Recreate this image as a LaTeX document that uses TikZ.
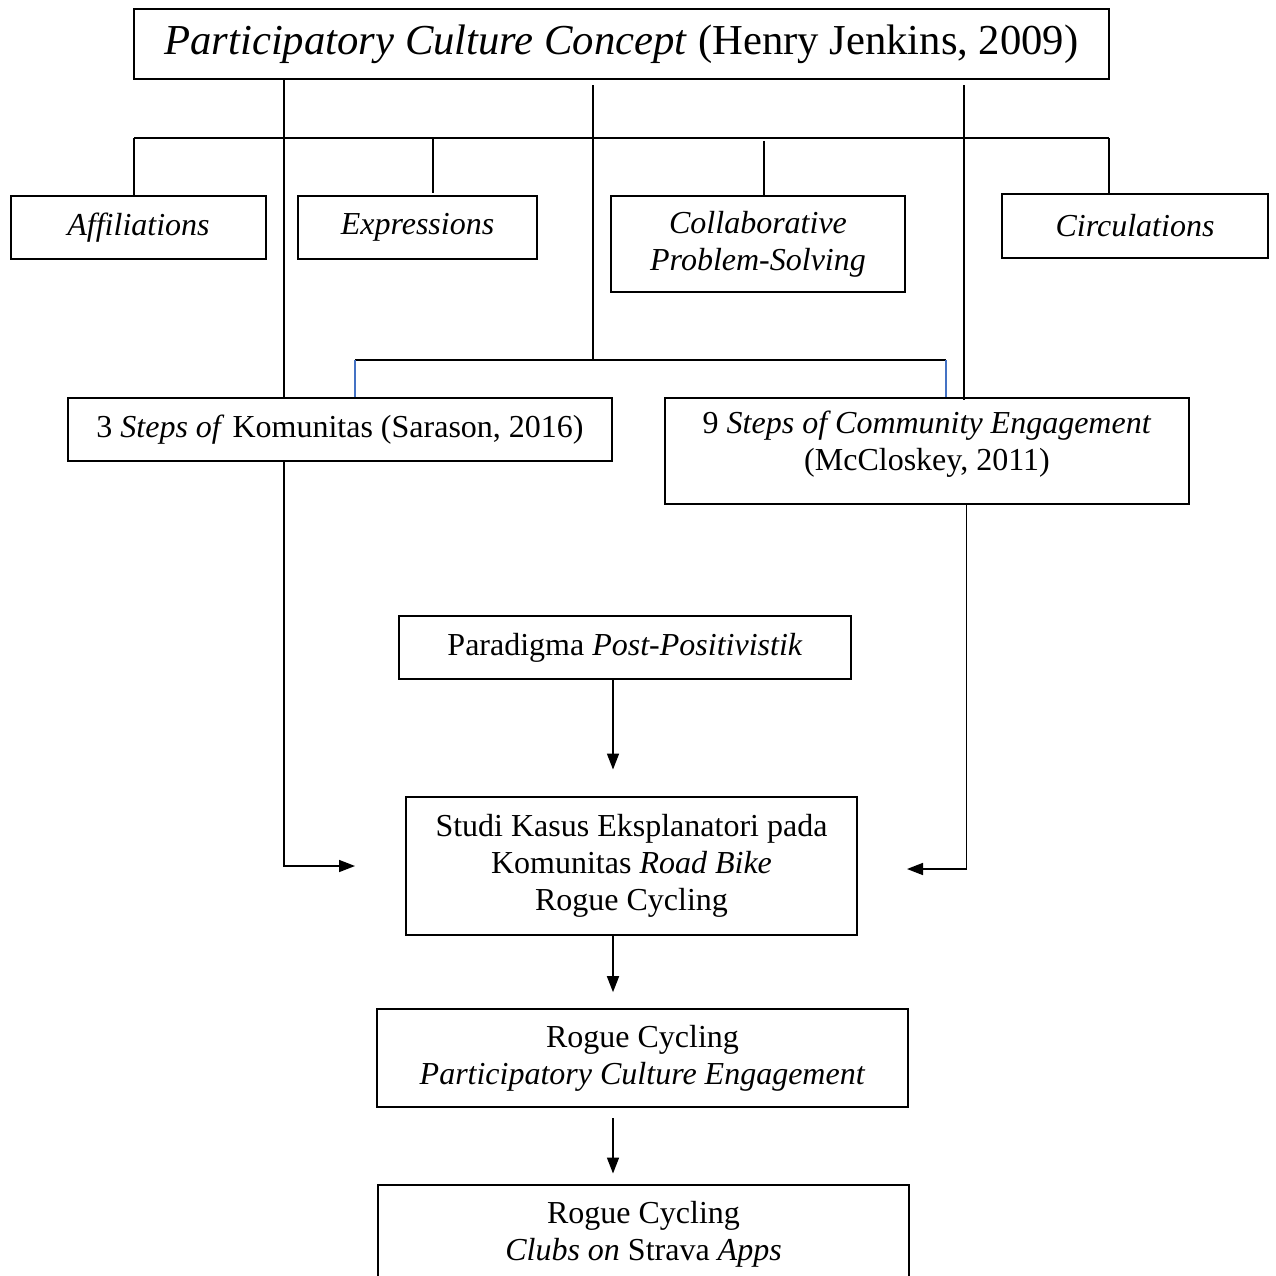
\documentclass[tikz,border=0pt]{standalone}
\usepackage{fontspec}
\setmainfont{Liberation Serif}
\usetikzlibrary{arrows.meta}
\definecolor{lk}{HTML}{4472C4}

\begin{document}
\begin{tikzpicture}[
  x=0.375pt,y=-0.375pt,
  >={Triangle[length=6pt,width=4.5pt]},
  line width=0.6pt,
  box/.style={rectangle,draw,line width=0.6pt,align=center,inner sep=1pt,
    font=\fontsize{12}{13.8}\selectfont},
  head/.style={box,font=\fontsize{16}{18}\selectfont}]

\clip (0,0) rectangle (1275,1276);

% concept and its four dimensions
\node[head,minimum width=365.6pt,minimum height=26.25pt] (concept) at (621.5,44)
  {\textit{Participatory Culture Concept} (Henry Jenkins, 2009)};
\node[box,minimum width=95.6pt,minimum height=23.6pt] (affil) at (138.5,227.5) {\textit{Affiliations}};
\node[box,minimum width=89.6pt,minimum height=23.6pt] (expr) at (417.5,227.5) {\textit{Expressions}};
\node[box,minimum width=110.25pt,minimum height=36pt] (collab) at (758,244)
  {\textit{Collaborative}\\\textit{Problem-Solving}};
\node[box,minimum width=99.75pt,minimum height=24pt] (circ) at (1135,226) {\textit{Circulations}};

% steps
\node[box,minimum width=204pt,minimum height=23.6pt] (steps3) at (340,429.5)
  {3 \textit{Steps of} Komunitas (Sarason, 2016)};
\node[box,minimum width=196.5pt,minimum height=39.75pt] (steps9) at (927,451)
  {9 \textit{Steps of Community Engagement}\\(McCloskey, 2011)\\[-6pt]\mbox{}};

% method chain
\node[box,minimum width=169.5pt,minimum height=23.6pt] (para) at (625,647.5)
  {Paradigma \textit{Post-Positivistik}};
\node[box,minimum width=169.1pt,minimum height=51.75pt] (studi) at (631.5,866)
  {Studi Kasus Eksplanatori pada\\Komunitas \textit{Road Bike}\\Rogue Cycling};
\node[box,minimum width=199.1pt,minimum height=36.75pt] (pce) at (642.5,1058)
  {Rogue Cycling\\\textit{Participatory Culture Engagement}};
\node[box,minimum width=199.1pt,minimum height=36.75pt] (strava) at (643.5,1234)
  {Rogue Cycling\\\textit{Clubs on} Strava \textit{Apps}};

% guide coordinates
\coordinate (busL) at (134,138);
\coordinate (busR) at (1109,138);
\coordinate (exprX) at (433,138);
\coordinate (collabX) at (764,141);
\coordinate (leftX) at (284,0);
\coordinate (midX) at (593,0);
\coordinate (rightX) at (964,0);
\coordinate (splitL) at (355,360);
\coordinate (splitR) at (946,360);
\coordinate (inL) at (355,866);
\coordinate (inR) at (907,869);
\coordinate (arrX) at (613,0);

% bus to the dimensions
\draw (busL) -- (busR);
\draw (busL) -- (busL |- affil.north);
\draw (exprX) -- ([yshift=1pt]exprX |- expr.north);
\draw (collabX) -- (collabX |- collab.north);
\draw (busR) -- (busR |- circ.north);

% long lines from the concept
\draw (concept.south -| leftX) -- (leftX |- steps3.north);
\draw ([yshift=-2pt]concept.south -| midX) -- (midX |- splitL);
\draw ([yshift=-2pt]concept.south -| rightX) -- ([yshift=-1pt]rightX |- steps9.north);
\draw (splitL) -- (splitR);
\draw[lk] (splitL) -- (splitL |- steps3.north);
\draw[lk] (splitR) -- (splitR |- steps9.north);

% into the case study
\draw[->] (steps3.south -| leftX) |- (inL);
\draw[->] ([xshift=1pt]steps9.south -| rightX) |- (inR);
\draw[->] (para.south -| arrX) -- ([yshift=10pt]arrX |- studi.north);
\draw[->] (studi.south -| arrX) -- ([yshift=6pt]arrX |- pce.north);
\draw[->] ([yshift=-4pt]pce.south -| arrX) -- ([yshift=4pt]arrX |- strava.north);
\end{tikzpicture}
\end{document}
